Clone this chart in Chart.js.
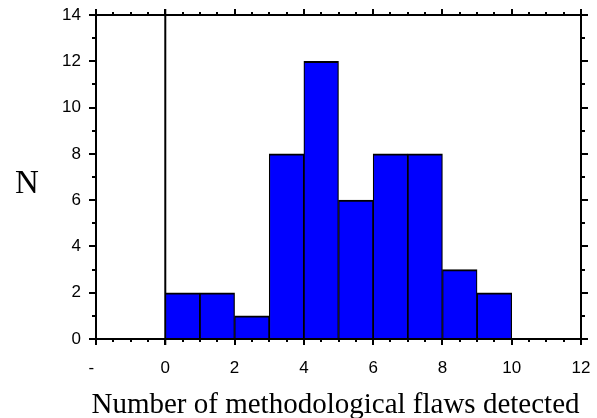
<!DOCTYPE html>
<html>
<head>
<meta charset="utf-8">
<script src="https://cdn.jsdelivr.net/npm/chart.js@4.4.1/dist/chart.umd.min.js"></script>
<style>
  html, body { margin: 0; padding: 0; background: #fff; }
  #chart { display: block; }
</style>
</head>
<body>
<canvas id="chart" width="597" height="418"></canvas>
<script>
// Histogram data (bin start, count)
const binStarts = [0, 1, 2, 3, 4, 5, 6, 7, 8, 9];
const counts = [2, 2, 1, 8, 12, 6, 8, 8, 3, 2];
const xTickValues = [-2, 0, 2, 4, 6, 8, 10, 12];
const xTickLabels = ['-  ', '0', '2', '4', '6', '8', '10', '12'];
const yTickValues = [0, 2, 4, 6, 8, 10, 12, 14];
const xTitle = 'Number of methodological flaws detected';
const yTitle = 'N';

const xMin = -2, xMax = 12, yMin = 0, yMax = 14;

// frame, tick marks, zero line and titles
const framePlugin = {
    id: 'frame',
    beforeDatasetsDraw(chart) {
        const { ctx, chartArea: a } = chart;
        const x0 = chart.scales.x.getPixelForValue(0);
        ctx.save();
        ctx.strokeStyle = '#000';
        ctx.lineWidth = 2;
        ctx.beginPath();
        ctx.moveTo(x0, a.top - 6);
        ctx.lineTo(x0, a.bottom + 6);
        ctx.stroke();
        ctx.restore();
    },
    afterDatasetsDraw(chart) {
        const { ctx, chartArea: a } = chart;
        const xs = chart.scales.x, ys = chart.scales.y;
        ctx.save();
        ctx.strokeStyle = '#000';
        ctx.lineWidth = 2;
        ctx.lineCap = 'butt';
        ctx.strokeRect(a.left, a.top, a.right - a.left, a.bottom - a.top);
        ctx.beginPath();
        // x ticks: minor every 0.5, major every 2
        for (let v = xMin; v <= xMax + 1e-9; v += 0.5) {
            const px = Math.round(xs.getPixelForValue(v));
            const major = Math.abs(v % 2) < 1e-9;
            const len = major ? 6 : 3;
            ctx.moveTo(px, a.top);
            ctx.lineTo(px, a.top - len);
            ctx.moveTo(px, a.bottom);
            ctx.lineTo(px, a.bottom + len);
        }
        // y ticks: minor every 1, major every 2
        for (let v = yMin; v <= yMax; v += 1) {
            const py = Math.round(ys.getPixelForValue(v));
            const major = v % 2 === 0;
            ctx.moveTo(a.left, py);
            ctx.lineTo(a.left - (major ? 7 : 4), py);
            ctx.moveTo(a.right, py);
            ctx.lineTo(a.right + (major ? 7 : 4), py);
        }
        ctx.stroke();

        ctx.fillStyle = '#000';
        ctx.textAlign = 'center';
        ctx.textBaseline = 'alphabetic';
        ctx.font = '29px "Liberation Serif", "Times New Roman", serif';
        ctx.fillText(xTitle, (a.left + a.right) / 2 - 3, 413);
        ctx.font = '33px "Liberation Serif", "Times New Roman", serif';
        ctx.fillText(yTitle, 27, 193);
        ctx.restore();
    }
};

new Chart(document.getElementById('chart'), {
    type: 'bar',
    data: {
        datasets: [{
            data: binStarts.map((s, i) => ({ x: s + 0.5, y: counts[i] })),
            backgroundColor: '#0000ff',
            borderColor: '#000',
            borderWidth: { top: 2, left: 1.25, right: 1.25, bottom: 0 },
            borderSkipped: false,
            barPercentage: 1,
            categoryPercentage: 1
        }]
    },
    options: {
        responsive: false,
        animation: false,
        devicePixelRatio: 1,
        layout: { padding: { left: 0, right: 16, top: 15, bottom: 0 } },
        plugins: { legend: { display: false }, tooltip: { enabled: false } },
        scales: {
            x: {
                type: 'linear',
                min: xMin,
                max: xMax,
                offset: false,
                grid: { display: false, drawTicks: false },
                border: { display: false },
                afterBuildTicks: s => { s.ticks = xTickValues.map(v => ({ value: v })); },
                afterFit: s => {
                    s.height = 79;
                    s.paddingLeft = 0;
                    s.paddingRight = 0;
                },
                ticks: {
                    maxRotation: 0,
                    autoSkip: false,
                    padding: 19,
                    color: '#000',
                    font: { family: '"Liberation Sans", Arial, sans-serif', size: 17 },
                    callback: v => xTickLabels[xTickValues.indexOf(v)]
                }
            },
            y: {
                min: yMin,
                max: yMax,
                grid: { display: false, drawTicks: false },
                border: { display: false },
                afterBuildTicks: s => { s.ticks = yTickValues.map(v => ({ value: v })); },
                afterFit: s => {
                    s.width = 96;
                    s.paddingTop = 0;
                    s.paddingBottom = 0;
                },
                ticks: {
                    padding: 15,
                    color: '#000',
                    font: { family: '"Liberation Sans", Arial, sans-serif', size: 17 }
                }
            }
        }
    },
    plugins: [framePlugin]
});
</script>
</body>
</html>
